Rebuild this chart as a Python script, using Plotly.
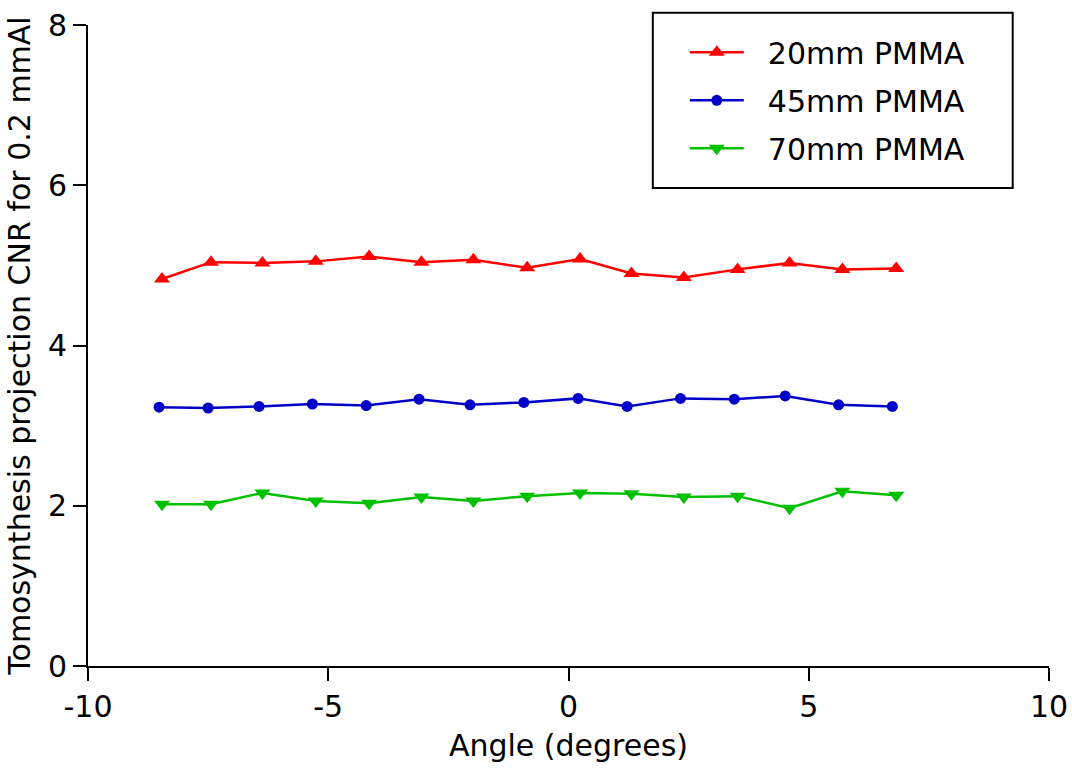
import plotly.graph_objects as go

angles = [-8.46, -7.44, -6.37, -5.26, -4.15, -3.06, -1.98, -0.86, 0.24, 1.31, 2.40, 3.52, 4.60, 5.70, 6.82]
angles_45 = [-8.52, -7.50, -6.44, -5.33, -4.21, -3.11, -2.05, -0.93, 0.20, 1.22, 2.33, 3.45, 4.51, 5.62, 6.74]
cnr_20mm = [4.83, 5.04, 5.03, 5.05, 5.11, 5.04, 5.07, 4.97, 5.08, 4.90, 4.85, 4.95, 5.03, 4.95, 4.96]
cnr_45mm = [3.23, 3.22, 3.24, 3.27, 3.25, 3.33, 3.26, 3.29, 3.34, 3.24, 3.34, 3.33, 3.37, 3.26, 3.24]
cnr_70mm = [2.02, 2.02, 2.16, 2.06, 2.03, 2.11, 2.06, 2.12, 2.16, 2.15, 2.11, 2.12, 1.97, 2.18, 2.13]

x_ticks = [-10, -5, 0, 5, 10]
x_tick_labels = ["-10", "-5", "0", "5", "10"]
y_ticks = [0, 2, 4, 6, 8]
y_tick_labels = ["0", "2", "4", "6", "8"]

FONT = "DejaVu Sans"
PAD = "\u00a0\u00a0"

fig = go.Figure()
fig.add_trace(go.Scatter(x=angles, y=cnr_20mm, mode="lines+markers", name=PAD + "20mm PMMA",
                         legendgroup="a",
                         line=dict(color="#FF0000", width=2.5),
                         marker=dict(symbol="triangle-up", size=14, color="#FF0000")))
fig.add_trace(go.Scatter(x=angles_45, y=cnr_45mm, mode="lines+markers", name=PAD + "45mm PMMA",
                         legendgroup="b",
                         line=dict(color="#0000C8", width=2.5),
                         marker=dict(symbol="circle", size=11, color="#0000C8")))
fig.add_trace(go.Scatter(x=angles, y=cnr_70mm, mode="lines+markers", name=PAD + "70mm PMMA",
                         legendgroup="c",
                         line=dict(color="#00C000", width=2.5),
                         marker=dict(symbol="triangle-down", size=14, color="#00C000")))

axis_common = dict(showline=True, linecolor="black", linewidth=2, ticks="outside",
                   ticklen=13, tickwidth=2, tickcolor="black", showgrid=False, zeroline=False,
                   automargin=False,
                   tickfont=dict(family=FONT, size=30, color="black"))

fig.update_layout(
    width=1072, height=771,
    margin=dict(l=88, r=23, t=25, b=105),
    paper_bgcolor="white", plot_bgcolor="white",
    font=dict(family=FONT, size=30, color="black"),
    xaxis=dict(range=[-10, 10], tickvals=x_ticks, ticktext=x_tick_labels,
               title=dict(text="Angle (degrees)", font=dict(family=FONT, size=30), standoff=12),
               **axis_common),
    yaxis=dict(range=[0, 8], tickvals=y_ticks, ticktext=y_tick_labels,
               title=dict(text="Tomosynthesis projection CNR for 0.2 mmAl", font=dict(family=FONT, size=30), standoff=8),
               **axis_common),
    legend=dict(x=0.621, y=0.998, xanchor="left", yanchor="top",
                bgcolor="rgba(0,0,0,0)", borderwidth=0,
                font=dict(family=FONT, size=30, color="black"),
                traceorder="grouped", tracegroupgap=6,
                itemwidth=54),
    shapes=[dict(type="rect", xref="paper", yref="paper",
                 x0=(653 - 88) / 961.3, x1=(1013 - 88) / 961.3,
                 y0=(665.7 - 188) / 640.7, y1=(665.7 - 12.7) / 640.7,
                 line=dict(color="black", width=2), fillcolor="rgba(0,0,0,0)")],
)

fig.write_html("out.html")
